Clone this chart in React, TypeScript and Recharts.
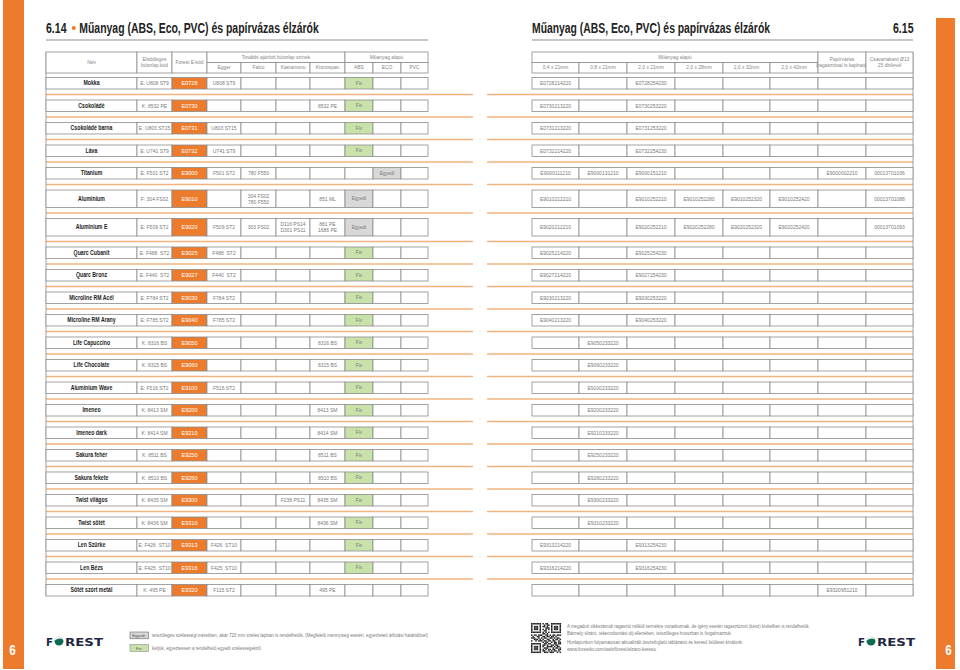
import React from 'react';
import { ScatterChart, Scatter, XAxis, YAxis, ReferenceLine, Customized } from 'recharts';

const W = 960;
const H = 670;

// ---------- data ----------
const names = ["Mokka", "Csokoládé", "Csokoládé barna", "Láva", "Titanium", "Aluminium", "Aluminium E", "Quarc Cubanit", "Quarc Bronz", "Microline RM Acél", "Microline RM Arany", "Life Capuccino", "Life Chocolate", "Aluminium Wave", "Imeneo", "Imeneo dark", "Sakura fehér", "Sakura fekete", "Twist világos", "Twist sötét", "Len Szürke", "Len Bézs", "Sötét szórt metál"];
const primaryBoard = ["E: U808 ST9", "K: 8532 PE", "E: U803 ST15", "E: U741 ST9", "E: F501 ST2", "F: 304 FS02", "E: F509 ST2", "E: F488  ST2", "E: F440  ST2", "E: F784 ST2", "E: F785 ST2", "K: 8316 BS", "K: 8315 BS", "E: F516 ST2", "K: 8413 SM", "K: 8414 SM", "K: 8511 BS", "K: 8510 BS", "K: 8435 SM", "K: 8436 SM", "E: F426  ST10", "E: F425  ST10", "K: 495 PE"];
const forestCodes = ["E0728", "E0730", "E0731", "E0732", "E9000", "E9010", "E9020", "E9025", "E9027", "E9030", "E9040", "E9050", "E9060", "E9100", "E9200", "E9210", "E9250", "E9260", "E9300", "E9310", "E9313", "E9316", "E9320"];
const egger = ["U808 ST9", "", "U803 ST15", "U741 ST9", "F501 ST2", "", "F509 ST2", "F488  ST2", "F440  ST2", "F784 ST2", "F785 ST2", "", "", "F516 ST2", "", "", "", "", "", "", "F426  ST10", "F425  ST10", "F115 ST2"];
const falco = ["", "", "", "", "780 F550", "304 FS02\n780 F550", "303 FS02", "", "", "", "", "", "", "", "", "", "", "", "", "", "", "", ""];
const kastamonu = ["", "", "", "", "", "", "D116 PS14\nD301 PS11", "", "", "", "", "", "", "", "", "", "", "", "F238 PS11", "", "", "", ""];
const kronospan = ["", "8532 PE", "", "", "", "851 ML", "881 PE\n1686 PE", "", "", "", "", "8316 BS", "8315 BS", "", "8413 SM", "8414 SM", "8511 BS", "8510 BS", "8435 SM", "8436 SM", "", "", "495 PE"];
const abs = ["Fix", "Fix", "Fix", "Fix", "", "Egyedi", "Egyedi", "Fix", "Fix", "Fix", "Fix", "Fix", "Fix", "Fix", "Fix", "Fix", "Fix", "Fix", "Fix", "Fix", "Fix", "Fix", ""];
const eco = ["", "", "", "", "Egyedi", "", "", "", "", "", "", "", "", "", "", "", "", "", "", "", "", "", ""];
const pvc = ["", "", "", "", "", "", "", "", "", "", "", "", "", "", "", "", "", "", "", "", "", "", ""];

const size04x21 = ["E0728214220", "E0730213220", "E0731213220", "E0732214220", "E9000111210", "E9010212210", "E9020212210", "E9025214220", "E9027214220", "E9030213220", "E9040213220", "", "", "", "", "", "", "", "", "", "E9313214220", "E9316214220", ""];
const size08x21 = ["", "", "", "", "E9000131210", "", "", "", "", "", "", "E9050233220", "E9060233220", "E9100233220", "E9200233220", "E9210233220", "E9250233220", "E9260233220", "E9300233220", "E9310233220", "", "", ""];
const size20x21 = ["E0728254230", "E0730253220", "E0731253220", "E0732254230", "E9000151210", "E9010252210", "E9020252210", "E9025254230", "E9027254230", "E9030253220", "E9040253220", "", "", "", "", "", "", "", "", "", "E9313254230", "E9316254230", ""];
const size20x28 = ["", "", "", "", "", "E9010252280", "E9020252280", "", "", "", "", "", "", "", "", "", "", "", "", "", "", "", ""];
const size20x32 = ["", "", "", "", "", "E9010252320", "E9020252320", "", "", "", "", "", "", "", "", "", "", "", "", "", "", "", ""];
const size20x42 = ["", "", "", "", "", "E9010252420", "E9020252420", "", "", "", "", "", "", "", "", "", "", "", "", "", "", "", ""];
const paperBased = ["", "", "", "", "E9000002210", "", "", "", "", "", "", "", "", "", "", "", "", "", "", "", "", "", "E9320951210"];
const screwCaps = ["", "", "", "", "00013701036", "00013701088", "00013701093", "", "", "", "", "", "", "", "", "", "", "", "", "", "", "", ""];

const headLeftFull = ["Név", "Elsődleges\nbútorlap kód", "Forest E-kód"];
const headLeftGroups = ["További ajánlott bútorlap színek", "Műanyag alapú"];
const headLeftSub = ["Egger", "Falco", "Kastamonu", "Kronospan", "ABS", "ECO", "PVC"];
const headRightGroup = ["Műanyag alapú"];
const headRightSub = ["0,4 x 21mm", "0,8 x 21mm", "2,0 x 21mm", "2,0 x 28mm", "2,0 x 32mm", "2,0 x 42mm"];
const headRightFull = ["Papírvázas\n(ragasztóval is kapható)", "Csavartakaró Ø13\n25 db/levél"];

const footNoteLeft = ["tetszőleges szélességi méretben, akár 720 mm széles lapban is rendelhetők. (Megfelelő mennyiség esetén, egyeztetett átfutási határidővel)", "kérjük, egyeztessen a rendelhető egyedi szélességekről."];
const footNoteRight = ["A megadott cikkszámok ragasztó nélküli termékre vonatkoznak, de igény esetén ragasztózott (kész) kivitelben is rendelhetők.", "Bármely élzáró, tekercsbontási díj ellenében, tetszőleges hosszban is forgalmazzuk.", "Honlapunkon folyamatosan aktualizált összefoglaló táblázatot és kereső felületet kínálunk:", "www.forestkv.com/web/forest/elzaro-kereso"];

const qrRows = [
  "111111101011001111111",
  "100000100101101000001",
  "101110101101001011101",
  "101110100011101011101",
  "101110101010101011101",
  "100000100110001000001",
  "111111101010101111111",
  "000000001101000000000",
  "101101110011010110111",
  "010011001101101101000",
  "111001010110011010110",
  "001110101001100101101",
  "100101110110110110010",
  "000000001011001011011",
  "111111100110110011011",
  "100000101101001101100",
  "101110101001111010110",
  "101110100111000101101",
  "101110101010110110011",
  "100000101100101011010",
  "111111100111011100101",
];

// ---------- layout ----------
const ORANGE = '#ec7b2b';
const SEP = '#f1b47f';
const BORDER = '#8c8c8c';
const SANS = "'Liberation Sans', Arial, sans-serif";

const COL_L = [46, 137, 172, 207, 241, 276, 310, 345, 373, 401, 428];
const COL_R = [532, 579, 627, 675, 723, 770, 818, 866, 913];
const HEAD_TOP = 52, HEAD_MID = 62.5, HEAD_BOT = 73;
const FIRST_ROW = 77.5, GAP = 11, ROW_H = 11.5, ROW_H_TALL = 17.5;

type Cell = { x: number; y: number; w: number; h: number; t: string; kind: string };

const leftCols = [names, primaryBoard, forestCodes, egger, falco, kastamonu, kronospan, abs, eco, pvc];
const rightCols = [size04x21, size08x21, size20x21, size20x28, size20x32, size20x42, paperBased, screwCaps];

const rowTops: number[] = [];
const rowHeights: number[] = [];
{
  let t = FIRST_ROW;
  names.forEach((_, i) => {
    const tall = [...leftCols, ...rightCols].some((c) => c[i].includes('\n'));
    const h = tall ? ROW_H_TALL : ROW_H;
    rowTops.push(t);
    rowHeights.push(h);
    t += h + GAP;
  });
}
const tableBottom = rowTops[rowTops.length - 1] + rowHeights[rowHeights.length - 1];

const cells: Cell[] = [];
names.forEach((_, i) => {
  const h = rowHeights[i];
  const y = rowTops[i] + h / 2;
  leftCols.forEach((col, c) => {
    const v = col[i];
    let kind = 'plain';
    if (c === 0) kind = 'name';
    else if (c === 2) kind = 'code';
    else if (v === 'Fix') kind = 'fix';
    else if (v === 'Egyedi') kind = 'egyedi';
    cells.push({ x: (COL_L[c] + COL_L[c + 1]) / 2, y, w: COL_L[c + 1] - COL_L[c], h, t: v, kind });
  });
  rightCols.forEach((col, c) => {
    cells.push({ x: (COL_R[c] + COL_R[c + 1]) / 2, y, w: COL_R[c + 1] - COL_R[c], h, t: col[i], kind: 'plain' });
  });
});

const headCells: Cell[] = [];
const addHead = (edges: number[], c0: number, c1: number, y0: number, y1: number, t: string) => {
  headCells.push({ x: (edges[c0] + edges[c1]) / 2, y: (y0 + y1) / 2, w: edges[c1] - edges[c0], h: y1 - y0, t, kind: 'head' });
};
headLeftFull.forEach((t, i) => addHead(COL_L, i, i + 1, HEAD_TOP, HEAD_BOT, t));
addHead(COL_L, 3, 7, HEAD_TOP, HEAD_MID, headLeftGroups[0]);
addHead(COL_L, 7, 10, HEAD_TOP, HEAD_MID, headLeftGroups[1]);
headLeftSub.forEach((t, i) => addHead(COL_L, 3 + i, 4 + i, HEAD_MID, HEAD_BOT, t));
addHead(COL_R, 0, 6, HEAD_TOP, HEAD_MID, headRightGroup[0]);
headRightSub.forEach((t, i) => addHead(COL_R, i, i + 1, HEAD_MID, HEAD_BOT, t));
headRightFull.forEach((t, i) => addHead(COL_R, 6 + i, 7 + i, HEAD_TOP, HEAD_BOT, t));

const separators: number[] = rowTops.slice(1).map((t) => t - GAP / 2);

// ---------- rendering ----------
function CellShape(props: any) {
  const { cx, cy } = props;
  const p: Cell = props.payload || props;
  if (cx == null || cy == null) return null;
  const x0 = cx - p.w / 2;
  const y0 = cy - p.h / 2;
  let fill = '#ffffff';
  let color = '#7a7a7a';
  let weight: any = 'normal';
  let fs = 5.0;
  let sx = 1;
  if (p.kind === 'code') { fill = ORANGE; color = '#ffffff'; fs = 5.6; }
  if (p.kind === 'fix') { fill = '#c8e2aa'; fs = 4.8; }
  if (p.kind === 'egyedi') { fill = '#d8d8d8'; fs = 4.8; }
  if (p.kind === 'name') { color = '#1c1c1c'; weight = 'bold'; fs = 6.5; sx = 0.8; }
  if (p.kind === 'head') { color = '#858585'; fs = 4.9; }
  const lines = p.t ? p.t.split('\n') : [];
  const lh = fs * 1.2;
  const start = cy - ((lines.length - 1) * lh) / 2;
  const tf = sx !== 1 ? `translate(${cx} 0) scale(${sx} 1) translate(${-cx} 0)` : undefined;
  return (
    <g>
      <rect x={x0} y={y0} width={p.w} height={p.h} fill={fill} stroke={BORDER} strokeWidth={0.8} />
      {lines.map((ln, k) => (
        <text key={k} x={cx} y={start + k * lh} textAnchor="middle" dominantBaseline="central" transform={tf}
          fontFamily={SANS} fontWeight={weight} fontSize={fs} fill={color} style={{ whiteSpace: 'pre' }}>
          {ln}
        </text>
      ))}
    </g>
  );
}

function Logo({ x }: { x: number }) {
  return (
    <g>
      <text x={x} y={645.5} fontFamily="'DejaVu Sans', sans-serif" fontWeight="bold" fontSize={11} fill="#1e2742"
        textLength={7} lengthAdjust="spacingAndGlyphs">F</text>
      <circle cx={x + 13} cy={641.2} r={4.4} fill="#0f6a52" />
      <path d={`M ${x + 8.8} ${640.4} A 4.4 4.4 0 0 1 ${x + 17.2} ${639.6} Q ${x + 13} ${637.2} ${x + 8.8} ${640.4} Z`} fill="#ffffff" />
      <text x={x + 19} y={645.5} fontFamily="'DejaVu Sans', sans-serif" fontWeight="bold" fontSize={11} fill="#1e2742"
        textLength={38} lengthAdjust="spacingAndGlyphs">REST</text>
    </g>
  );
}

function Decor() {
  const qrX = 531, qrY = 623, m = 30 / 21;
  return (
    <g>
      <rect x={3} y={0} width={21} height={669} fill={ORANGE} />
      <rect x={936} y={18} width={19} height={651} fill={ORANGE} />
      <text x={12.5} y={655} textAnchor="middle" fontFamily={SANS} fontWeight="bold" fontSize={14} fill="#ffffff"
        textLength={6.5} lengthAdjust="spacingAndGlyphs">6</text>
      <text x={948.5} y={655} textAnchor="middle" fontFamily={SANS} fontWeight="bold" fontSize={14} fill="#ffffff"
        textLength={6.5} lengthAdjust="spacingAndGlyphs">6</text>

      <text x={46} y={33} fontFamily={SANS} fontWeight="bold" fontSize={14} fill="#222222"
        textLength={20.5} lengthAdjust="spacingAndGlyphs">6.14</text>
      <circle cx={73.8} cy={28} r={2.1} fill={ORANGE} />
      <text x={79.3} y={33} fontFamily={SANS} fontWeight="bold" fontSize={14} fill="#222222"
        textLength={239.5} lengthAdjust="spacingAndGlyphs">Műanyag (ABS, Eco, PVC) és papírvázas élzárók</text>
      <text x={532} y={33} fontFamily={SANS} fontWeight="bold" fontSize={14} fill="#222222"
        textLength={238} lengthAdjust="spacingAndGlyphs">Műanyag (ABS, Eco, PVC) és papírvázas élzárók</text>
      <text x={893} y={33} fontFamily={SANS} fontWeight="bold" fontSize={14} fill="#222222"
        textLength={20.5} lengthAdjust="spacingAndGlyphs">6.15</text>
      <line x1={46} y1={40} x2={428} y2={40} stroke="#b3b3b3" strokeWidth={1.5} />
      <line x1={532} y1={40} x2={913} y2={40} stroke="#b3b3b3" strokeWidth={1.5} />

      <Logo x={46} />
      <Logo x={858} />

      <rect x={130} y={632} width={18.5} height={6.8} fill="#d8d8d8" stroke="#666666" strokeWidth={0.6} />
      <text x={139.2} y={635.6} textAnchor="middle" dominantBaseline="central" fontFamily={SANS} fontSize={4.2} fill="#555555">Egyedi:</text>
      <rect x={130} y={644.6} width={18.5} height={6.8} fill="#c8e2aa" stroke="#8c8c8c" strokeWidth={0.6} />
      <text x={139.2} y={648.1} textAnchor="middle" dominantBaseline="central" fontFamily={SANS} fontSize={4.2} fill="#555555">Fix:</text>
      <text x={152} y={635.6} dominantBaseline="central" fontFamily={SANS} fontSize={4.5} fill="#777777"
        textLength={276} lengthAdjust="spacingAndGlyphs">{footNoteLeft[0]}</text>
      <text x={152} y={648.1} dominantBaseline="central" fontFamily={SANS} fontSize={4.5} fill="#777777"
        textLength={110} lengthAdjust="spacingAndGlyphs">{footNoteLeft[1]}</text>

      {qrRows.map((row, r) =>
        row.split('').map((b, c) => (b === '1' ? (
          <rect key={`${r}-${c}`} x={qrX + c * m} y={qrY + r * m} width={m + 0.05} height={m + 0.05} fill="#222222" />
        ) : null))
      )}
      {footNoteRight.map((t, i) => (
        <text key={i} x={567} y={[626.5, 633.8, 642.4, 649.4][i]} dominantBaseline="central" fontFamily={SANS}
          fontSize={4.5} fill="#777777" textLength={[243, 165, 176, 89][i]} lengthAdjust="spacingAndGlyphs">{t}</text>
      ))}
    </g>
  );
}

export default function App() {
  return (
    <div style={{ position: 'absolute', left: 0, top: 0, width: W, height: H, background: '#ffffff' }}>
      <ScatterChart width={W} height={H} margin={{ top: 0, right: 0, bottom: 0, left: 0 }}>
        <XAxis type="number" dataKey="x" domain={[0, W]} hide allowDataOverflow />
        <YAxis type="number" dataKey="y" domain={[0, H]} reversed hide allowDataOverflow />
        <Customized component={Decor} />
        {separators.map((y, i) => (
          <ReferenceLine key={`sl${i}`} segment={[{ x: 46, y }, { x: 473, y }]} stroke={SEP} strokeWidth={1.6} ifOverflow="visible" />
        ))}
        {separators.map((y, i) => (
          <ReferenceLine key={`sr${i}`} segment={[{ x: 487, y }, { x: 913, y }]} stroke={SEP} strokeWidth={1.6} ifOverflow="visible" />
        ))}
        <ReferenceLine segment={[{ x: 46, y: HEAD_TOP }, { x: 46, y: tableBottom }]} stroke={BORDER} strokeWidth={0.8} ifOverflow="visible" />
        <ReferenceLine segment={[{ x: 913, y: HEAD_TOP }, { x: 913, y: tableBottom }]} stroke={BORDER} strokeWidth={0.8} ifOverflow="visible" />
        <Scatter name="header" data={headCells} shape={CellShape} isAnimationActive={false} />
        <Scatter name="cells" data={cells} shape={CellShape} isAnimationActive={false} />
      </ScatterChart>
    </div>
  );
}
